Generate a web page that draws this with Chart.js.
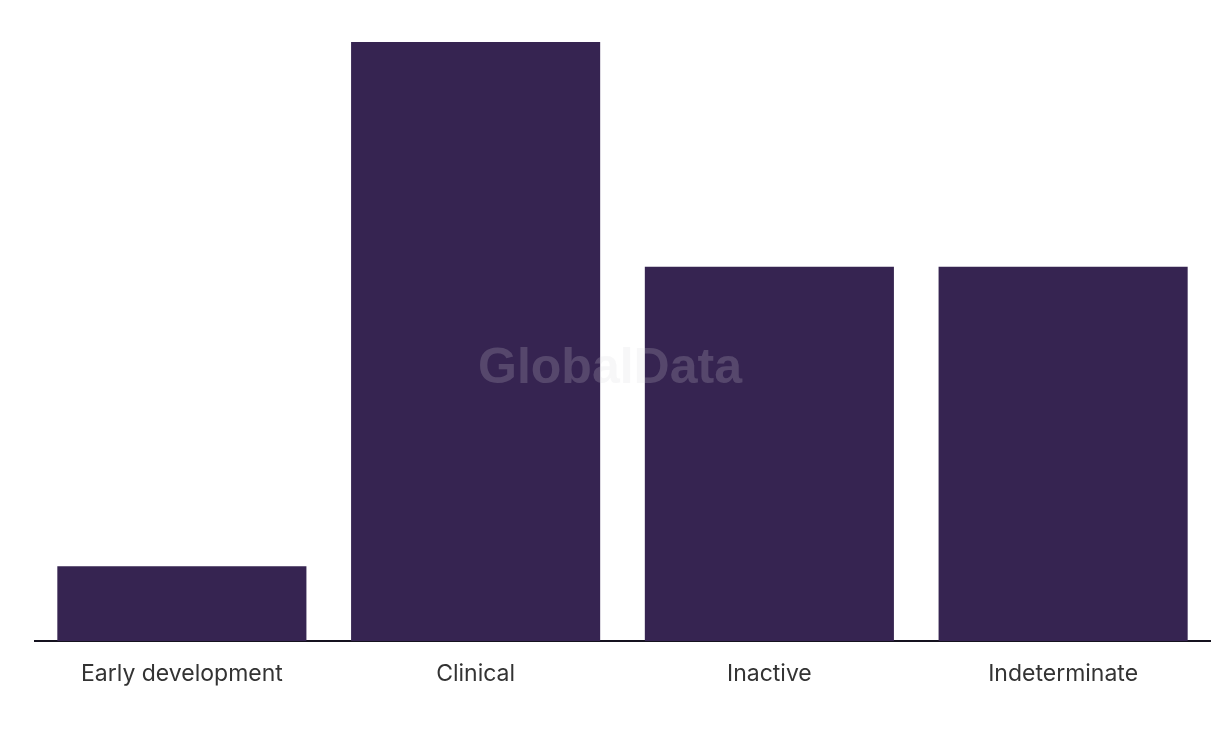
<!DOCTYPE html>
<html>
<head>
<meta charset="utf-8">
<script src="https://cdn.jsdelivr.net/npm/chart.js@4"></script>
<style>
    html, body { margin: 0; padding: 0; background: #ffffff; }
    #wrap { width: 1220px; height: 736px; position: relative; }
</style>
</head>
<body>
<div id="wrap"><canvas id="stageChart"></canvas></div>
<script>
// Data
const categories = ['Early development', 'Clinical', 'Inactive', 'Indeterminate'];
const counts = [1, 8, 5, 5];

// Watermark drawn on top of bars
const watermark = {
    id: 'watermark',
    afterDatasetsDraw(chart) {
        const { ctx } = chart;
        ctx.save();
        ctx.font = "bold 50px 'Liberation Sans', Arial, sans-serif";
        ctx.fillStyle = 'rgba(216, 214, 222, 0.2)';
        ctx.textAlign = 'center';
        ctx.textBaseline = 'middle';
        ctx.fillText('GlobalData', 610, 369);
        ctx.restore();
    }
};

const ctx = document.getElementById('stageChart').getContext('2d');

new Chart(ctx, {
    type: 'bar',
    data: {
        labels: categories,
        datasets: [{
            data: counts,
            backgroundColor: '#362451',
            borderWidth: 0,
            categoryPercentage: 1,
            barPercentage: 0.848
        }]
    },
    options: {
        responsive: true,
        maintainAspectRatio: false,
        animation: false,
        layout: {
            padding: { left: 35, right: 10, top: 42, bottom: 0 }
        },
        scales: {
            x: {
                grid: { display: false, drawTicks: false },
                border: { display: true, color: '#15121f', width: 2 },
                ticks: {
                    color: '#333333',
                    padding: 19,
                    font: { family: "Inter, 'Noto Sans', sans-serif", size: 23 }
                },
                afterFit(scale) { scale.height = 95; }
            },
            y: {
                display: false,
                min: 0,
                max: 8
            }
        },
        plugins: {
            legend: { display: false },
            tooltip: { enabled: false }
        }
    },
    plugins: [watermark]
});
</script>
</body>
</html>
